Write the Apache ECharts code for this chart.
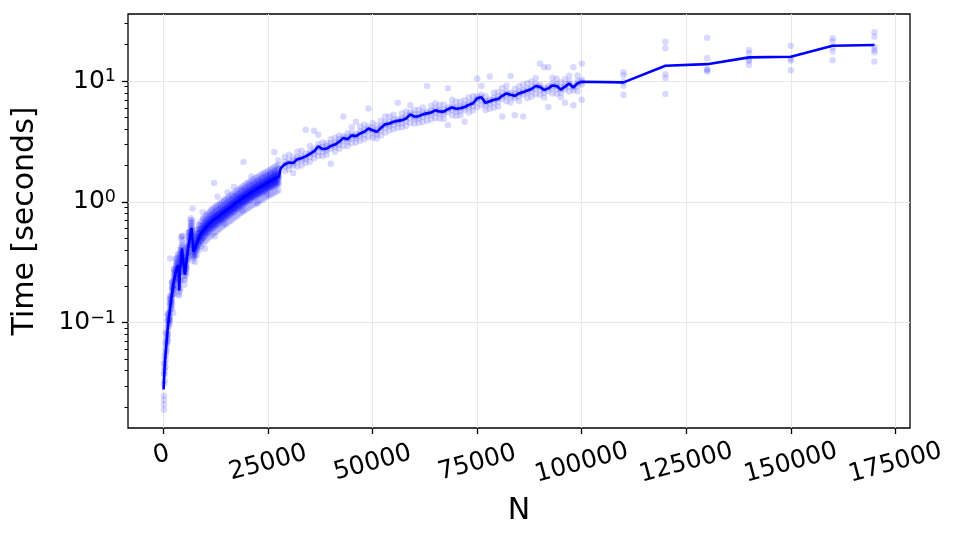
<!DOCTYPE html>
<html>
<head>
<meta charset="utf-8">
<script src="https://cdn.jsdelivr.net/npm/echarts@6/dist/echarts.min.js"></script>
<style>
  html, body { margin: 0; padding: 0; background: #fff; }
  #main { width: 963px; height: 545px; }
</style>
</head>
<body>
<div id="main"></div>
<script>
// mean curve (N, seconds)
const lineN = [0, 150, 300, 500, 700, 1000, 1300, 1600, 2000, 2400, 2800, 3200, 3500, 3650, 3750, 3950,
  4400, 4750, 5100, 5900, 6700, 7150, 7600, 8000, 8600, 9000, 10000, 11000, 12000, 13000, 14000, 15000,
  16000, 17000, 18000, 19000, 20000, 21000, 22000, 23000, 24000, 25000, 26000, 27000, 27600, 28000,
  29000, 30000, 31000, 32000, 33000, 34000, 35000, 36000, 37000, 38000, 39000, 40000, 41000, 42000,
  43000, 44000, 45000, 46000, 47000, 48000, 49000, 50000, 51000, 52000, 53000, 54000, 55000, 56000,
  57000, 58000, 59000, 60000, 61000, 62000, 63000, 64000, 65000, 66000, 67000, 68000, 69000, 70000,
  71000, 72000, 73000, 74000, 75000, 76000, 77000, 78000, 79000, 80000, 81000, 82000, 83000, 84000,
  85000, 86000, 87000, 88000, 89000, 90000, 91000, 92000, 93000, 94000, 95000, 96000, 97000, 98000,
  99000, 100000, 110000, 120000, 130000, 140000, 150000, 160000, 170000];
const lineT = [0.028, 0.036, 0.045, 0.056, 0.067, 0.09, 0.11, 0.135, 0.17, 0.215, 0.25, 0.285, 0.30, 0.26, 0.185, 0.27,
  0.41, 0.31, 0.25, 0.42, 0.61, 0.385, 0.42, 0.46, 0.52, 0.55, 0.61, 0.66, 0.71, 0.75, 0.80, 0.85,
  0.90, 0.96, 1.02, 1.08, 1.14, 1.20, 1.26, 1.32, 1.38, 1.45, 1.51, 1.58, 1.63, 1.90,
  2.05, 2.12, 2.10, 2.25, 2.30, 2.38, 2.50, 2.62, 2.88, 2.74, 2.76, 2.90, 2.98, 3.15,
  3.38, 3.30, 3.55, 3.50, 3.68, 3.80, 4.05, 3.92, 3.80, 4.10, 4.38, 4.45, 4.60, 4.68,
  4.75, 4.90, 5.30, 5.08, 5.12, 5.30, 5.40, 5.50, 5.72, 5.60, 5.58, 5.85, 6.05, 5.90,
  5.95, 6.10, 6.35, 6.55, 7.20, 7.35, 6.60, 6.80, 7.00, 7.10, 7.55, 7.90, 7.70, 7.55,
  7.90, 8.10, 8.35, 8.60, 9.10, 8.95, 8.45, 8.70, 9.20, 9.10, 8.50, 9.00, 9.55, 8.85,
  9.60, 9.87, 9.75, 13.4, 13.8, 15.7, 15.9, 19.6, 19.9];

// individual runs, small N (dense part)
const denseN = [100, 500, 1000, 1500, 2000, 2500, 3000, 3500, 4000, 4500, 5000, 5500, 6000, 6500, 7000,
  7500, 8000, 8500, 9000, 9500, 10000, 10500, 11000, 11500, 12000, 12500, 13000, 13500, 14000, 14500,
  15000, 15500, 16000, 16500, 17000, 17500, 18000, 18500, 19000, 19500, 20000, 20500, 21000, 21500,
  22000, 22500, 23000, 23500, 24000, 24500, 25000, 25500, 26000, 26500, 27000, 27500];
const denseT = [
  [0.019, 0.021, 0.023, 0.025, 0.031, 0.038, 0.046],
  [0.043, 0.049, 0.054, 0.057, 0.061, 0.068, 0.083],
  [0.074, 0.081, 0.086, 0.091, 0.096, 0.104, 0.118],
  [0.104, 0.113, 0.121, 0.126, 0.133, 0.142, 0.163],
  [0.142, 0.156, 0.164, 0.171, 0.179, 0.192, 0.214],
  [0.188, 0.204, 0.216, 0.224, 0.233, 0.247, 0.276],
  [0.228, 0.248, 0.262, 0.27, 0.281, 0.297, 0.335],
  [0.172, 0.196, 0.279, 0.298, 0.312, 0.328, 0.362],
  [0.188, 0.221, 0.262, 0.296, 0.327, 0.358, 0.401],
  [0.334, 0.372, 0.398, 0.418, 0.437, 0.462, 0.521],
  [0.228, 0.243, 0.256, 0.266, 0.279, 0.302, 0.341],
  [0.281, 0.304, 0.321, 0.334, 0.349, 0.371, 0.418],
  [0.382, 0.411, 0.433, 0.449, 0.468, 0.497, 0.556],
  [0.498, 0.534, 0.561, 0.581, 0.603, 0.634, 0.702],
  [0.357, 0.389, 0.407, 0.421, 0.438, 0.468, 0.551],
  [0.358, 0.384, 0.401, 0.414, 0.428, 0.452, 0.523],
  [0.412, 0.441, 0.458, 0.472, 0.488, 0.512, 0.581],
  [0.447, 0.482, 0.503, 0.519, 0.538, 0.568, 0.642],
  [0.481, 0.517, 0.538, 0.553, 0.572, 0.603, 0.497],
  [0.508, 0.548, 0.569, 0.584, 0.603, 0.634, 0.721],
  [0.534, 0.572, 0.597, 0.612, 0.631, 0.664, 0.561],
  [0.556, 0.598, 0.622, 0.638, 0.659, 0.692, 0.781],
  [0.578, 0.621, 0.646, 0.662, 0.683, 0.718, 0.604],
  [0.603, 0.648, 0.672, 0.688, 0.71, 0.743, 0.852],
  [0.627, 0.671, 0.697, 0.712, 0.734, 0.772, 0.641],
  [0.648, 0.692, 0.718, 0.734, 0.756, 0.793, 0.902],
  [0.668, 0.713, 0.739, 0.756, 0.777, 0.814, 0.694],
  [0.692, 0.736, 0.763, 0.779, 0.801, 0.842, 0.951],
  [0.713, 0.758, 0.786, 0.803, 0.824, 0.863, 0.731],
  [0.738, 0.783, 0.812, 0.828, 0.851, 0.892, 1.01],
  [0.758, 0.804, 0.834, 0.851, 0.874, 0.918, 0.782],
  [0.781, 0.829, 0.859, 0.876, 0.899, 0.947, 1.06],
  [0.802, 0.852, 0.883, 0.902, 0.926, 0.971, 0.831],
  [0.829, 0.879, 0.911, 0.931, 0.956, 1.0, 1.12],
  [0.857, 0.908, 0.941, 0.961, 0.986, 1.03, 0.878],
  [0.881, 0.936, 0.97, 0.99, 1.02, 1.07, 1.18],
  [0.908, 0.966, 1.0, 1.02, 1.05, 1.1, 0.937],
  [0.937, 0.995, 1.03, 1.05, 1.08, 1.13, 1.26],
  [0.966, 1.02, 1.06, 1.08, 1.11, 1.16, 0.988],
  [0.995, 1.05, 1.09, 1.11, 1.14, 1.2, 1.32],
  [1.02, 1.08, 1.12, 1.14, 1.17, 1.23, 1.05],
  [1.05, 1.11, 1.15, 1.17, 1.2, 1.26, 1.4],
  [1.08, 1.14, 1.18, 1.2, 1.23, 1.29, 1.1],
  [1.1, 1.17, 1.21, 1.23, 1.26, 1.32, 1.45],
  [1.13, 1.2, 1.24, 1.26, 1.29, 1.36, 1.16],
  [1.16, 1.23, 1.27, 1.29, 1.32, 1.39, 1.52],
  [1.18, 1.26, 1.3, 1.32, 1.35, 1.42, 1.21],
  [1.21, 1.29, 1.33, 1.35, 1.38, 1.45, 1.6],
  [1.24, 1.31, 1.36, 1.38, 1.41, 1.48, 1.27],
  [1.27, 1.34, 1.39, 1.41, 1.45, 1.52, 1.66],
  [1.3, 1.38, 1.43, 1.45, 1.49, 1.56, 1.33],
  [1.33, 1.41, 1.46, 1.48, 1.52, 1.59, 1.74],
  [1.36, 1.44, 1.49, 1.51, 1.55, 1.63, 1.38],
  [1.39, 1.47, 1.53, 1.55, 1.59, 1.67, 1.82],
  [1.42, 1.5, 1.56, 1.58, 1.62, 1.7, 1.45],
  [1.45, 1.54, 1.6, 1.62, 1.66, 1.74, 1.9]
];
// the in-between sizes of the dense part
const midN = [250, 750, 1250, 1750, 2250, 2750, 3250, 3750, 4250, 4750, 5250, 5750, 6250, 6750, 7250,
  7750, 8250, 8750, 9250, 9750, 10250, 10750, 11250, 11750, 12250, 12750, 13250, 13750, 14250, 14750,
  15250, 15750, 16250, 16750, 17250, 17750, 18250, 18750, 19250, 19750, 20250, 20750, 21250, 21750,
  22250, 22750, 23250, 23750, 24250, 24750, 25250, 25750, 26250, 26750, 27250];
const midT = [
  [0.033, 0.037, 0.04, 0.042, 0.046, 0.052], [0.059, 0.065, 0.068, 0.072, 0.075, 0.081],
  [0.094, 0.101, 0.105, 0.109, 0.113, 0.121], [0.131, 0.139, 0.145, 0.151, 0.156, 0.167],
  [0.172, 0.184, 0.191, 0.198, 0.205, 0.219], [0.218, 0.232, 0.24, 0.249, 0.258, 0.272],
  [0.256, 0.272, 0.283, 0.293, 0.302, 0.319], [0.168, 0.181, 0.192, 0.21, 0.285, 0.312],
  [0.33, 0.352, 0.371, 0.388, 0.402, 0.425], [0.272, 0.291, 0.304, 0.316, 0.329, 0.352],
  [0.247, 0.264, 0.274, 0.286, 0.296, 0.315], [0.335, 0.357, 0.372, 0.387, 0.401, 0.425],
  [0.443, 0.472, 0.49, 0.51, 0.527, 0.558], [0.532, 0.566, 0.589, 0.612, 0.633, 0.668],
  [0.344, 0.367, 0.381, 0.397, 0.411, 0.434], [0.39, 0.415, 0.431, 0.449, 0.464, 0.49],
  [0.434, 0.462, 0.48, 0.5, 0.517, 0.546], [0.474, 0.505, 0.524, 0.546, 0.564, 0.596],
  [0.5, 0.533, 0.553, 0.576, 0.595, 0.628], [0.527, 0.561, 0.583, 0.607, 0.627, 0.662],
  [0.554, 0.59, 0.612, 0.638, 0.659, 0.696], [0.576, 0.613, 0.637, 0.663, 0.685, 0.723],
  [0.598, 0.637, 0.661, 0.689, 0.711, 0.751], [0.62, 0.66, 0.686, 0.714, 0.737, 0.778],
  [0.638, 0.679, 0.706, 0.735, 0.758, 0.801], [0.656, 0.698, 0.725, 0.755, 0.779, 0.823],
  [0.678, 0.722, 0.75, 0.781, 0.806, 0.851], [0.7, 0.745, 0.774, 0.806, 0.832, 0.879],
  [0.718, 0.764, 0.794, 0.826, 0.853, 0.901], [0.74, 0.788, 0.818, 0.852, 0.879, 0.929],
  [0.767, 0.816, 0.848, 0.883, 0.911, 0.962], [0.789, 0.84, 0.872, 0.908, 0.937, 0.99],
  [0.811, 0.863, 0.897, 0.934, 0.964, 1.02], [0.838, 0.892, 0.926, 0.964, 0.995, 1.05],
  [0.864, 0.92, 0.956, 0.995, 1.03, 1.08], [0.891, 0.948, 0.985, 1.03, 1.06, 1.12],
  [0.917, 0.976, 1.01, 1.06, 1.09, 1.15], [0.944, 1.0, 1.04, 1.09, 1.12, 1.18],
  [0.97, 1.03, 1.07, 1.12, 1.15, 1.22], [0.997, 1.06, 1.1, 1.15, 1.18, 1.25],
  [1.02, 1.09, 1.13, 1.18, 1.21, 1.28], [1.05, 1.12, 1.16, 1.21, 1.24, 1.31],
  [1.08, 1.15, 1.19, 1.24, 1.28, 1.35], [1.1, 1.17, 1.22, 1.27, 1.31, 1.38],
  [1.13, 1.2, 1.25, 1.3, 1.34, 1.41], [1.16, 1.23, 1.28, 1.33, 1.37, 1.45],
  [1.18, 1.26, 1.31, 1.36, 1.4, 1.48], [1.21, 1.29, 1.34, 1.39, 1.44, 1.52],
  [1.24, 1.32, 1.37, 1.42, 1.47, 1.55], [1.27, 1.35, 1.4, 1.46, 1.5, 1.59],
  [1.3, 1.38, 1.44, 1.49, 1.54, 1.63], [1.33, 1.41, 1.47, 1.52, 1.57, 1.66],
  [1.36, 1.44, 1.5, 1.56, 1.61, 1.7], [1.39, 1.48, 1.53, 1.6, 1.65, 1.74],
  [1.42, 1.51, 1.57, 1.63, 1.68, 1.77]
];
// looser runs around the dense band
const haloN = [1000, 1500, 2000, 2500, 3000, 3500, 4000, 4500, 5000, 5500, 6000, 6500, 7000, 7500,
  8000, 8500, 9000, 9500, 10000, 10500, 11000, 11500, 12000, 12500, 13000, 13500, 14000, 14500,
  15000, 15500, 16000, 16500, 17000, 17500, 18000, 18500, 19000, 19500, 20000, 20500, 21000, 21500,
  22000, 22500, 23000, 23500, 24000, 24500, 25000, 25500, 26000, 26500, 27000, 27500];
const haloT = [
  [0.07, 0.079, 0.104, 0.115], [0.098, 0.107, 0.147, 0.157], [0.131, 0.148, 0.196, 0.216],
  [0.173, 0.192, 0.259, 0.28], [0.207, 0.233, 0.309, 0.339], [0.231, 0.255, 0.344, 0.372],
  [0.227, 0.256, 0.338, 0.372], [0.323, 0.359, 0.482, 0.52], [0.206, 0.228, 0.305, 0.335],
  [0.256, 0.288, 0.383, 0.42], [0.347, 0.385, 0.517, 0.56], [0.446, 0.501, 0.667, 0.73],
  [0.325, 0.361, 0.485, 0.525], [0.318, 0.357, 0.475, 0.52], [0.364, 0.405, 0.544, 0.588],
  [0.399, 0.447, 0.596, 0.651], [0.427, 0.475, 0.637, 0.69], [0.449, 0.503, 0.671, 0.733],
  [0.472, 0.525, 0.705, 0.764], [0.49, 0.55, 0.733, 0.8], [0.511, 0.568, 0.762, 0.826],
  [0.529, 0.593, 0.79, 0.863], [0.549, 0.611, 0.82, 0.889], [0.564, 0.632, 0.843, 0.92],
  [0.583, 0.649, 0.87, 0.944], [0.599, 0.671, 0.895, 0.976], [0.619, 0.69, 0.924, 0.998],
  [0.637, 0.713, 0.951, 1.04], [0.656, 0.731, 0.98, 1.06], [0.674, 0.754, 1.01, 1.1],
  [0.696, 0.775, 1.04, 1.13], [0.716, 0.802, 1.07, 1.16], [0.741, 0.825, 1.11, 1.2],
  [0.761, 0.852, 1.14, 1.24], [0.786, 0.876, 1.17, 1.28], [0.808, 0.904, 1.21, 1.31],
  [0.833, 0.928, 1.24, 1.35], [0.854, 0.956, 1.28, 1.39], [0.879, 0.979, 1.31, 1.43],
  [0.9, 1.01, 1.35, 1.46], [0.925, 1.03, 1.38, 1.5], [0.946, 1.06, 1.41, 1.54],
  [0.971, 1.08, 1.45, 1.58], [0.992, 1.11, 1.48, 1.61], [1.02, 1.14, 1.52, 1.65],
  [1.04, 1.16, 1.55, 1.69], [1.06, 1.19, 1.59, 1.73], [1.09, 1.21, 1.62, 1.76],
  [1.12, 1.25, 1.67, 1.81], [1.14, 1.27, 1.7, 1.85], [1.16, 1.3, 1.74, 1.89],
  [1.19, 1.33, 1.78, 1.94], [1.22, 1.36, 1.82, 1.98], [1.25, 1.39, 1.86, 2.03]
];
// stray runs seen off the dense band
const strayPts = [[1600, 0.34], [2300, 0.12], [4140, 0.51], [6940, 0.88], [6940, 0.70], [9330, 0.82],
  [9890, 0.41], [12100, 1.43], [12280, 0.52], [12920, 1.1], [14520, 0.66], [15300, 1.2], [16800, 1.33],
  [18900, 0.85], [19140, 2.14], [21000, 1.62], [22500, 0.97], [24800, 1.15], [26490, 2.59], [27400, 2.2]];

// runs every 1000 from 29000 to 100000
const outerN = [29000, 30000, 31000, 32000, 33000, 34000, 35000, 36000, 37000, 38000, 39000, 40000,
  41000, 42000, 43000, 44000, 45000, 46000, 47000, 48000, 49000, 50000, 51000, 52000, 53000, 54000,
  55000, 56000, 57000, 58000, 59000, 60000, 61000, 62000, 63000, 64000, 65000, 66000, 67000, 68000,
  69000, 70000, 71000, 72000, 73000, 74000, 75000, 76000, 77000, 78000, 79000, 80000, 81000, 82000,
  83000, 84000, 85000, 86000, 87000, 88000, 89000, 90000, 91000, 92000, 93000, 94000, 95000, 96000,
  97000, 98000, 99000, 100000];
const outerT = [
  [1.80, 1.95, 2.05, 2.15, 2.35], [1.85, 2.0, 2.1, 2.2, 2.45], [1.73, 2.0, 2.08, 2.2, 2.35],
  [1.95, 2.15, 2.25, 2.35, 2.6], [2.0, 2.2, 2.3, 2.4, 2.65], [2.1, 2.25, 2.35, 2.5, 3.95],
  [2.15, 2.35, 2.5, 2.6, 2.9], [2.3, 2.5, 2.6, 2.75, 3.87], [2.4, 2.6, 2.8, 3.0, 3.6],
  [2.4, 2.6, 2.75, 2.85, 3.1], [2.45, 2.65, 2.75, 2.9, 3.05], [2.07, 2.75, 2.9, 3.05, 3.3],
  [2.6, 2.85, 2.95, 3.1, 3.4], [2.75, 3.0, 3.15, 3.3, 3.55], [2.9, 3.2, 3.35, 3.5, 5.1],
  [2.9, 3.15, 3.3, 3.45, 3.7], [3.05, 3.35, 3.5, 3.7, 4.15], [3.1, 3.35, 3.5, 3.65, 4.6],
  [3.2, 3.5, 3.65, 3.85, 4.2], [3.3, 3.6, 3.8, 3.95, 4.35], [3.45, 3.85, 4.0, 4.2, 5.94],
  [3.4, 3.7, 3.9, 4.1, 4.5], [3.35, 3.6, 3.8, 3.95, 4.3], [3.55, 3.9, 4.1, 4.25, 4.7],
  [3.75, 4.15, 4.35, 4.55, 5.1], [3.9, 4.25, 4.4, 4.6, 5.1], [4.0, 4.35, 4.6, 4.8, 5.25],
  [4.1, 4.45, 4.65, 4.85, 6.6], [4.15, 4.5, 4.75, 4.95, 5.4], [4.25, 4.65, 4.9, 5.1, 5.6],
  [4.5, 5.0, 5.25, 5.5, 6.3], [4.45, 4.85, 5.05, 5.3, 5.75], [4.5, 4.9, 5.1, 5.3, 5.8],
  [4.6, 5.05, 5.3, 5.5, 6.05], [4.7, 5.15, 5.4, 5.6, 9.1], [4.8, 5.25, 5.5, 5.7, 6.25],
  [4.95, 5.45, 5.7, 5.95, 6.55], [4.9, 5.35, 5.6, 5.8, 6.35], [4.85, 5.3, 5.55, 5.8, 6.4],
  [4.3, 5.55, 5.85, 6.05, 8.7], [5.2, 5.75, 6.0, 6.3, 7.0], [5.15, 5.6, 5.9, 6.1, 6.75],
  [5.2, 5.65, 5.95, 6.2, 6.75], [4.6, 5.8, 6.1, 6.35, 6.95], [5.5, 6.05, 6.3, 6.6, 7.3],
  [5.7, 6.2, 6.55, 6.8, 7.5], [6.1, 6.8, 7.15, 7.5, 10.5], [6.3, 6.95, 7.3, 7.7, 9.1],
  [5.75, 6.3, 6.6, 6.85, 7.5], [5.9, 6.45, 6.8, 7.05, 10.9], [6.05, 6.65, 7.0, 7.3, 8.0],
  [6.15, 6.75, 7.1, 7.4, 8.1], [5.1, 7.15, 7.5, 7.85, 8.75], [6.8, 7.5, 7.85, 8.2, 9.15],
  [6.65, 7.3, 7.7, 8.0, 11.0], [5.2, 7.2, 7.55, 7.85, 8.6], [6.85, 7.5, 7.9, 8.2, 9.05],
  [5.1, 7.7, 8.1, 8.4, 9.3], [7.2, 7.95, 8.3, 8.7, 9.6], [7.4, 8.15, 8.6, 8.95, 9.9],
  [7.8, 8.6, 9.05, 9.5, 10.6], [7.7, 8.5, 8.95, 9.3, 14.0], [7.3, 8.0, 8.45, 8.8, 13.0],
  [6.1, 8.25, 8.7, 9.05, 13.0], [7.9, 8.7, 9.15, 9.6, 10.65], [7.85, 8.65, 9.1, 9.45, 10.45],
  [7.35, 8.05, 8.5, 8.85, 9.75], [6.6, 8.55, 9.0, 9.35, 10.35], [8.2, 9.05, 9.5, 9.95, 11.05],
  [6.3, 8.4, 8.85, 9.2, 13.0], [8.25, 9.1, 9.55, 10.0, 11.1], [7.0, 9.35, 9.85, 10.25, 14.0]
];

// large N, a few runs each
const tailN = [110000, 120000, 130000, 140000, 150000, 160000, 170000];
const tailT = [
  [7.66, 9.15, 9.8, 11.1, 11.8],
  [7.8, 10.6, 11.4, 18.7, 21.2],
  [12.0, 12.3, 12.6, 15.5, 22.8],
  [13.6, 14.7, 15.0, 17.0, 18.1],
  [12.3, 14.7, 15.3, 19.6],
  [14.9, 17.6, 19.0, 21.3, 22.6],
  [14.5, 17.3, 18.1, 19.2, 23.3, 25.4]
];

const xTicks = [0, 25000, 50000, 75000, 100000, 125000, 150000, 175000];
const yTicks = [0.1, 1, 10];
const yExps = ['\u22121', '0', '1'];
const yMinor = [0.02, 0.03, 0.04, 0.05, 0.06, 0.07, 0.08, 0.09, 0.2, 0.3, 0.4, 0.5, 0.6, 0.7, 0.8, 0.9,
  2, 3, 4, 5, 6, 7, 8, 9, 20, 30];

const font = 'DejaVu Sans';

function runs(ns, ts) {
  let out = [];
  ns.forEach((n, i) => ts[i].forEach(t => out.push([n, t])));
  return out;
}
const points = runs(denseN, denseT).concat(runs(midN, midT), runs(haloN, haloT), strayPts,
  runs(outerN, outerT), runs(tailN, tailT));
const mean = lineN.map((n, i) => [n, lineT[i]]);

const chart = echarts.init(document.getElementById('main'));
const yMin = 0.01343, yMax = 35.9;

const option = {
  animation: false,
  grid: {
    left: 128, right: 53, top: 14, bottom: 117,
    show: true, borderColor: '#000', borderWidth: 1.3
  },
  xAxis: {
    type: 'value', min: -8500, max: 178500,
    name: 'N', nameLocation: 'middle', nameGap: 68,
    nameTextStyle: { fontSize: 30, color: '#000', fontFamily: font },
    axisLine: { show: false, onZero: false },
    axisTick: { show: true, length: 6, customValues: xTicks, lineStyle: { color: '#000', width: 1.3 } },
    axisLabel: {
      customValues: xTicks, rotate: 15, align: 'center', verticalAlign: 'middle', margin: 35,
      fontSize: 25, color: '#000', fontFamily: font,
      formatter: v => (v === 0 ? '{z|0}' : String(v)),
      rich: { z: { fontSize: 25, color: '#000', fontFamily: font, padding: [0, 0, 16, 0] } }
    },
    splitLine: { show: true, lineStyle: { color: '#e8e8e8', width: 1 } }
  },
  yAxis: [
    {
      type: 'log', logBase: 10, min: yMin, max: yMax,
      name: 'Time [seconds]', nameLocation: 'middle', nameGap: 88,
      nameTextStyle: { fontSize: 30, color: '#000', fontFamily: font },
      axisLine: { show: false, onZero: false },
      axisTick: { show: true, length: 6, customValues: yTicks, lineStyle: { color: '#000', width: 1.3 } },
      axisLabel: {
        customValues: yTicks, margin: 12,
        formatter: v => '{b|10}{s|' + yExps[yTicks.indexOf(v)] + '}',
        rich: {
          b: { fontSize: 25, lineHeight: 27, color: '#000', fontFamily: font },
          s: { fontSize: 17.5, lineHeight: 17, verticalAlign: 'top', color: '#000', fontFamily: font }
        }
      },
      splitLine: { show: true, lineStyle: { color: '#e8e8e8', width: 1 } }
    },
    {
      type: 'log', logBase: 10, min: yMin, max: yMax, position: 'left',
      axisLine: { show: false, onZero: false },
      axisTick: { show: true, length: 3.5, customValues: yMinor, lineStyle: { color: '#000', width: 1 } },
      axisLabel: { show: false },
      splitLine: { show: false }
    }
  ],
  series: [
    {
      name: 'runs', type: 'scatter', data: points, symbolSize: 6.5, silent: true,
      itemStyle: { color: '#0000ff', opacity: 0.15 }
    },
    {
      name: 'mean', type: 'line', data: mean, showSymbol: false, silent: true, z: 3,
      lineStyle: { color: '#0000ff', width: 2.6 }
    }
  ]
};
chart.setOption(option);
</script>
</body>
</html>
